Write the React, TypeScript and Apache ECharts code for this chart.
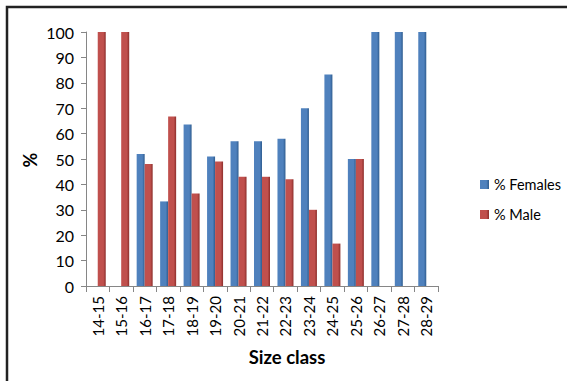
import React, { useEffect, useRef } from "react";
import * as echarts from "echarts";

const categories = ["14-15", "15-16", "16-17", "17-18", "18-19", "19-20", "20-21", "21-22", "22-23", "23-24", "24-25", "25-26", "26-27", "27-28", "28-29"];
const females = [0, 0, 52, 33.3, 63.6, 51, 57, 57, 58, 70, 83.3, 50, 100, 100, 100];
const males = [100, 100, 48, 66.7, 36.4, 49, 43, 43, 42, 30, 16.7, 50, 0, 0, 0];
const yTicks = { min: 0, max: 100, interval: 10 };

const FONT = "Lato, 'Open Sans', sans-serif";

function grad(base: string, dark: string) {
  return new echarts.graphic.LinearGradient(0, 0, 1, 0, [
    { offset: 0, color: base },
    { offset: 0.7, color: base },
    { offset: 1, color: dark },
  ]);
}

export default function App() {
  const ref = useRef<HTMLDivElement>(null);
  useEffect(() => {
    if (!ref.current) return;
    const chart = echarts.init(ref.current, undefined, { renderer: "svg" });
    chart.setOption({
      animation: false,
      backgroundColor: "#ffffff",
      grid: { left: 86, right: 129, top: 32, bottom: 95, containLabel: false },
      legend: {
        orient: "vertical",
        left: 475,
        top: 172,
        padding: 5,
        itemWidth: 9,
        itemHeight: 9,
        itemGap: 15,
        icon: "rect",
        textStyle: { fontFamily: FONT, fontSize: 14.5, color: "#000" },
        data: ["% Females", "% Male"],
      },
      xAxis: {
        type: "category",
        data: categories,
        axisLine: { lineStyle: { color: "#868686", width: 1 } },
        axisTick: { show: true, alignWithLabel: false, length: 6, lineStyle: { color: "#868686" } },
        axisLabel: { rotate: 90, fontFamily: FONT, fontSize: 15, color: "#000", margin: 10 },
      },
      yAxis: {
        type: "value",
        min: yTicks.min,
        max: yTicks.max,
        interval: yTicks.interval,
        axisLine: { show: true, lineStyle: { color: "#868686" } },
        axisTick: { show: true, length: 5, lineStyle: { color: "#868686" } },
        splitLine: { show: false },
        axisLabel: { fontFamily: FONT, fontSize: 16, color: "#000", margin: 12 },
      },
      series: [
        {
          name: "% Females",
          type: "bar",
          data: females,
          barWidth: 8,
          barGap: "0%",
          itemStyle: { color: grad("#4F81BD", "#2E5C8F") },
        },
        {
          name: "% Male",
          type: "bar",
          data: males,
          barWidth: 8,
          itemStyle: { color: grad("#C0504D", "#8C2E2B") },
        },
      ],
      color: ["#4F81BD", "#C0504D"],
      graphic: [
        {
          type: "rect",
          shape: { x: 7, y: 7, width: 700, height: 500 },
          style: { fill: "none", stroke: "#222", lineWidth: 2.5 },
          silent: true,
        },
        {
          type: "text",
          x: 30,
          y: 160,
          rotation: Math.PI / 2,
          style: { text: "%", fontFamily: FONT, fontSize: 18, fontWeight: "bold", fill: "#000", align: "center", verticalAlign: "middle" },
        },
        {
          type: "text",
          x: 287,
          y: 357,
          style: { text: "Size class", fontFamily: FONT, fontSize: 18.5, fontWeight: "bold", fill: "#000", align: "center", verticalAlign: "middle" },
        },
      ],
    });
    return () => chart.dispose();
  }, []);
  return <div ref={ref} style={{ position: "fixed", left: 0, top: 0, width: 567, height: 381 }} />;
}
